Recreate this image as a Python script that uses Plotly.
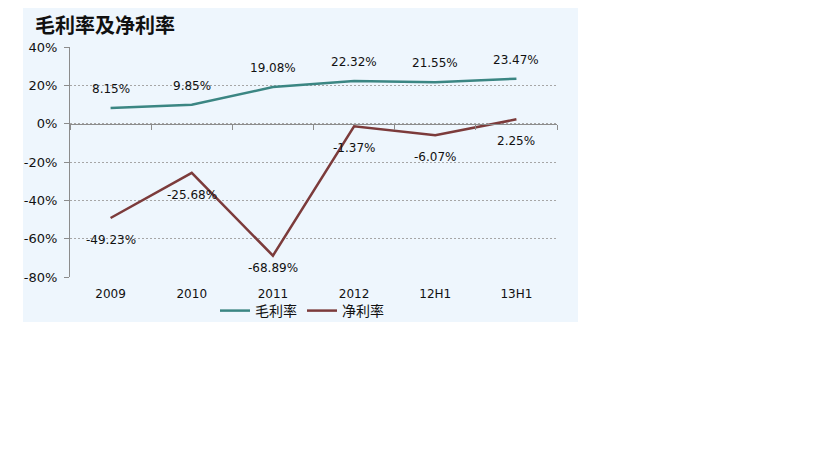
import plotly.graph_objects as go

categories = ["2009", "2010", "2011", "2012", "12H1", "13H1"]
gross_margin = [8.15, 9.85, 19.08, 22.32, 21.55, 23.47]
net_margin = [-49.23, -25.68, -68.89, -1.37, -6.07, 2.25]
y_ticks = [40, 20, 0, -20, -40, -60, -80]
y_tick_labels = ["40%", "20%", "0%", "-20%", "-40%", "-60%", "-80%"]
series_names = ["毛利率", "净利率"]
title_text = "毛利率及净利率"

OFF = 8  # page body margin
W, H = 819 - OFF, 460 - OFF
L, R, T, B = 70 - OFF, 557 - OFF, 47 - OFF, 277 - OFF
YMIN, YMAX = -80, 40
px_per_unit = (B - T) / (YMAX - YMIN)

def px_to_paper_x(px):
    return (px - OFF - L) / (R - L)

def px_to_paper_y(py):
    return (B - (py - OFF)) / (B - T)

TEAL = "#3B8683"
MAROON = "#7C3B3B"
PANEL = "#EEF6FD"
LABEL_FONT = dict(family="DejaVu Sans", size=12, color="#111111")

fig = go.Figure()
fig.add_trace(go.Scatter(x=categories, y=gross_margin, mode="lines", name=series_names[0],
                         line=dict(color=TEAL, width=2.5), hoverinfo="skip"))
fig.add_trace(go.Scatter(x=categories, y=net_margin, mode="lines", name=series_names[1],
                         line=dict(color=MAROON, width=2.5), hoverinfo="skip"))
# dummy trace for axis at zero
fig.add_trace(go.Scatter(x=categories, y=[None] * len(categories), xaxis="x2", yaxis="y",
                         mode="lines", showlegend=False, hoverinfo="skip"))

annotations = []
for i, v in enumerate(gross_margin):
    annotations.append(dict(x=i, y=v, text=f"{v:.2f}%", showarrow=False, yshift=19,
                            font=LABEL_FONT, xanchor="center", yanchor="middle"))
for i, v in enumerate(net_margin):
    dist = (v - YMIN) * px_per_unit
    shift = min(22, dist - 9)
    annotations.append(dict(x=i, y=v, text=f"{v:.2f}%", showarrow=False, yshift=-shift,
                            font=LABEL_FONT, xanchor="center", yanchor="middle"))
annotations.append(dict(xref="paper", yref="paper", x=px_to_paper_x(34), y=px_to_paper_y(OFF + 1),
                        text=f"<b>{title_text}</b>", showarrow=False, xanchor="left", yanchor="top",
                        borderpad=0,
                        font=dict(family="Noto Sans CJK SC", size=20, color="#111111")))

fig.update_layout(
    width=W, height=H,
    margin=dict(l=L, r=W - R, t=T, b=H - B, pad=0),
    paper_bgcolor="white",
    plot_bgcolor="rgba(0,0,0,0)",
    showlegend=True,
    legend=dict(orientation="h", x=px_to_paper_x(302), y=px_to_paper_y(311),
                xanchor="center", yanchor="middle", itemwidth=30,
                font=dict(family="Noto Sans CJK SC", size=14, color="#111111"),
                bgcolor="rgba(0,0,0,0)", tracegroupgap=0),
    xaxis=dict(type="category", categoryorder="array", categoryarray=categories,
               showline=False, showgrid=False, ticks="", range=[-0.5, 5.5],
               tickfont=dict(family="DejaVu Sans", size=12, color="#111111"),
               ticklabelstandoff=8),
    xaxis2=dict(type="category", categoryorder="array", categoryarray=categories,
                overlaying="x", anchor="free", position=(0 - YMIN) / (YMAX - YMIN),
                showline=True, linecolor="#8C8C8C", linewidth=1,
                ticks="outside", ticklen=5, tickcolor="#8C8C8C", tickson="boundaries",
                showticklabels=False, showgrid=False, range=[-0.5, 5.5]),
    yaxis=dict(range=[YMIN, YMAX], tickvals=y_ticks, ticktext=y_tick_labels,
               showline=True, linecolor="#8C8C8C", linewidth=1,
               ticks="outside", ticklen=5, tickcolor="#8C8C8C",
               showgrid=True, gridcolor="#A6A6A6", griddash="2px,2px", gridwidth=1,
               zeroline=False, ticklabelstandoff=4,
               tickfont=dict(family="DejaVu Sans", size=13, color="#111111")),
    annotations=annotations,
    shapes=[dict(type="rect", xref="paper", yref="paper",
                 x0=px_to_paper_x(23), x1=px_to_paper_x(578),
                 y0=px_to_paper_y(322), y1=px_to_paper_y(0),
                 fillcolor=PANEL, line=dict(width=0), layer="below")],
)

fig.write_html("out.html")
